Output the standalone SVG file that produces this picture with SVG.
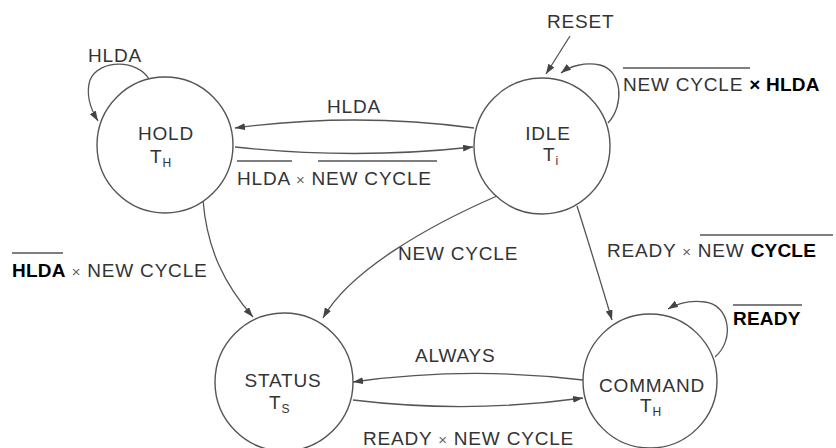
<svg xmlns="http://www.w3.org/2000/svg" width="836" height="448" viewBox="0 0 836 448">
  <style>
    .st { fill: #fff; stroke: #555; stroke-width: 1.4; }
    .cn { fill: none; stroke: #555; stroke-width: 1.3; marker-end: url(#ah); }
    .ov { stroke: #555; stroke-width: 1.3; }
    text { font-family: "Liberation Sans", Arial, sans-serif; font-size: 19px; letter-spacing: 0.8px; fill: #333; }
    .nm { text-anchor: middle; }
    .sub { font-size: 12px; letter-spacing: 0; }
    .x { font-size: 15px; fill: #666; }
    .ink { fill: #000; font-weight: bold; letter-spacing: 0.2px; }
  </style>
  <defs>
    <marker id="ah" markerUnits="userSpaceOnUse" markerWidth="11" markerHeight="8" refX="10" refY="3.5" orient="auto">
      <path d="M0,0 L10,3.5 L0,7 z" fill="#444"/>
    </marker>
  </defs>
  <rect width="836" height="448" fill="#fff"/>

  <!-- transitions -->
  <g id="connectors">
    <path class="cn" d="M149,79 C138,60 100,58 90,80 C86,93 90,108 98,121"/>
    <path class="cn" d="M474,128 Q355,112 235,128"/>
    <path class="cn" d="M235,147 Q355,160 473,147"/>
    <path class="cn" d="M570,36 L546,74"/>
    <path class="cn" d="M608,123 C625,105 622,70 600,65 C585,62 570,66 561,73"/>
    <path class="cn" d="M203,200 C207,250 225,285 253,317"/>
    <path class="cn" d="M497,196 C430,225 350,270 323,318"/>
    <path class="cn" d="M577,206 C588,240 600,280 612,320"/>
    <path class="cn" d="M715,357 C735,340 730,305 705,302 C690,300 678,303 668,309"/>
    <path class="cn" d="M583,380 Q468,366 353,382"/>
    <path class="cn" d="M353,400 Q468,414 583,398"/>
  </g>

  <!-- transition labels -->
  <g id="labels">
    <text x="88" y="62">HLDA</text>
    <text x="327" y="113">HLDA</text>
    <text x="237" y="185">HLDA <tspan class="x">×</tspan> NEW CYCLE</text>
    <line class="ov" x1="237" y1="161" x2="292" y2="161"/>
    <line class="ov" x1="318" y1="161" x2="437" y2="161"/>
    <text x="547" y="28">RESET</text>
    <text x="623" y="91">NEW CYCLE <tspan class="ink">× HLDA</tspan></text>
    <line class="ov" x1="623" y1="68" x2="750" y2="68"/>
    <text x="12" y="277"><tspan class="ink">HLDA</tspan> <tspan class="x">×</tspan> NEW CYCLE</text>
    <line class="ov" x1="12" y1="253" x2="63" y2="253" stroke-width="2"/>
    <text x="398" y="260">NEW CYCLE</text>
    <text x="607" y="257">READY <tspan class="x">×</tspan> NEW <tspan class="ink">CYCLE</tspan></text>
    <line class="ov" x1="700" y1="235" x2="745" y2="235"/>
    <line class="ov" x1="745" y1="235" x2="833" y2="235" stroke="#000" stroke-width="2.5"/>
    <text x="733" y="325" class="ink">READY</text>
    <line class="ov" x1="733" y1="305" x2="802" y2="305" stroke="#000" stroke-width="2"/>
    <text x="415" y="362">ALWAYS</text>
    <text x="363" y="445">READY <tspan class="x">×</tspan> NEW CYCLE</text>
  </g>

  <g id="hold">
    <circle class="st" cx="165" cy="145" r="68"/>
    <text class="nm" x="166" y="140">HOLD</text>
    <text x="150" y="163">T<tspan class="sub" dy="4">H</tspan></text>
  </g>

  <g id="idle">
    <circle class="st" cx="542" cy="146" r="68"/>
    <text class="nm" x="548" y="140">IDLE</text>
    <text x="543" y="161">T<tspan class="sub" dy="4">i</tspan></text>
  </g>

  <g id="status">
    <circle class="st" cx="284" cy="382" r="69"/>
    <text class="nm" x="283" y="387">STATUS</text>
    <text x="269" y="409">T<tspan class="sub" dy="4">S</tspan></text>
  </g>

  <g id="command">
    <circle class="st" cx="650" cy="381" r="67"/>
    <text class="nm" x="652" y="392">COMMAND</text>
    <text x="640" y="412">T<tspan class="sub" dy="4">H</tspan></text>
  </g>
</svg>
